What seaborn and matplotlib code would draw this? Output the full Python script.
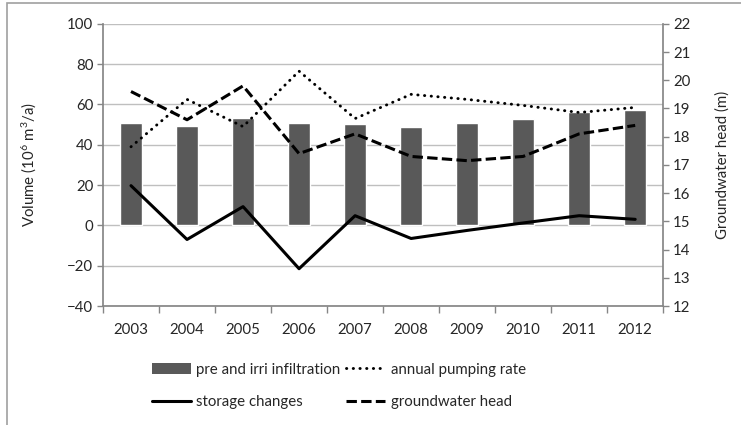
import matplotlib
matplotlib.use("Agg")
import matplotlib.pyplot as plt
import pandas as pd
import seaborn as sns
from matplotlib.lines import Line2D
from matplotlib.patches import Patch, Rectangle
from matplotlib.ticker import FixedLocator, MultipleLocator

years = ["2003", "2004", "2005", "2006", "2007", "2008", "2009", "2010", "2011", "2012"]
infiltration = [51, 49.5, 53.5, 51, 50.5, 49, 51, 53, 56, 57]
pumping = [39, 62.5, 49, 76.5, 53, 65, 62.5, 59.5, 56, 58.5]
storage = [19.7, -7, 9.3, -21.5, 4.8, -6.5, -2.5, 1.2, 4.8, 3]
head = [19.6, 18.6, 19.8, 17.4, 18.1, 17.3, 17.15, 17.3, 18.1, 18.4]

df = pd.DataFrame({"year": years, "infiltration": infiltration, "pumping": pumping,
                   "storage": storage, "head": head})

sns.set_theme(style="white")
plt.rcParams["font.family"] = ["Lato", "DejaVu Sans"]
plt.rcParams["mathtext.fontset"] = "custom"
plt.rcParams["mathtext.rm"] = "Lato"
plt.rcParams["mathtext.it"] = "Lato"

axis_grey = "#868686"
grid_grey = "#BFBFBF"
text_col = "#262626"
fs = 10.8
dots = (0, (0.1, 2.2))
dashes = (0, (3.4, 1.4))

fig = plt.figure(figsize=(7.41, 4.25), dpi=100)
ax = fig.add_axes([0.139, 0.28, 0.756, 0.664])

sns.barplot(data=df, x="year", y="infiltration", color="#595959", width=0.4,
            saturation=1, ax=ax, zorder=2)
sns.lineplot(data=df, x="year", y="pumping", color="black", lw=2.1, ax=ax,
             linestyle=dots, dash_capstyle="round", zorder=3)
sns.lineplot(data=df, x="year", y="storage", color="black", lw=2.2, ax=ax, zorder=3)

ax.set_ylim(-40, 100)
ax.set_xlim(-0.5, len(years) - 0.5)
ax.yaxis.set_major_locator(MultipleLocator(20))
ax.grid(axis="y", color=grid_grey, lw=1, zorder=0)
ax.set_axisbelow(True)
ax.set_xlabel("")
ax.set_ylabel(r"Volume (10$^{6}$ m$^{3}$/a)", fontsize=fs, color=text_col)
ax.yaxis.set_label_coords(-0.116, 0.5)

ax2 = ax.twinx()
sns.lineplot(data=df, x="year", y="head", color="black", lw=2.2, ax=ax2,
             linestyle=dashes, zorder=3)
ax2.set_ylim(12, 22)
ax2.yaxis.set_major_locator(MultipleLocator(1))
ax2.set_ylabel("Groundwater head (m)", fontsize=fs, color=text_col)
ax2.yaxis.set_label_coords(1.093, 0.5)
ax2.set_xlim(-0.5, len(years) - 0.5)

for a in (ax, ax2):
    for s in a.spines.values():
        s.set_visible(False)
    a.tick_params(axis="y", labelsize=fs, colors=text_col, length=4, width=1,
                  color=axis_grey, pad=3)
ax.spines["left"].set_visible(True)
ax.spines["left"].set_color(axis_grey)
ax.spines["bottom"].set_visible(True)
ax.spines["bottom"].set_color(axis_grey)
ax2.spines["right"].set_visible(True)
ax2.spines["right"].set_color(axis_grey)

ax.xaxis.set_minor_locator(FixedLocator([i - 0.5 for i in range(len(years) + 1)]))
ax.tick_params(axis="x", which="major", length=0, labelsize=fs, colors=text_col, pad=12)
ax.tick_params(axis="x", which="minor", length=5, width=1, color=axis_grey, bottom=True)

handles = [Patch(facecolor="#595959", edgecolor="none"),
           Line2D([], [], color="black", lw=2.2),
           Line2D([], [], color="black", lw=2.1, linestyle=dots, dash_capstyle="round"),
           Line2D([], [], color="black", lw=2.2, linestyle=dashes)]
labels = ["pre and irri infiltration", "storage changes", "annual pumping rate", "groundwater head"]
fig.legend(handles, labels, ncol=2, loc="center left", bbox_to_anchor=(0.205, 0.092),
           frameon=False, fontsize=fs, handlelength=2.6, handletextpad=0.35,
           columnspacing=0.4, labelspacing=1.25, borderaxespad=0, borderpad=0)

fig.patches.append(Rectangle((7 / 741, -0.1), 1.2, 1 - 3 / 425 + 0.1, transform=fig.transFigure,
                             fill=False, edgecolor="#A0A0A0", lw=1.2))

fig.savefig("out.png", dpi=100)
